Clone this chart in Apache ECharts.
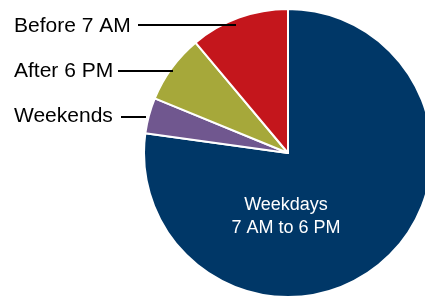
<!DOCTYPE html>
<html>
<head>
<meta charset="utf-8">
<script src="https://cdn.jsdelivr.net/npm/echarts@6/dist/echarts.min.js"></script>
<style>
  html, body { margin: 0; padding: 0; background: #fff; }
  #main { width: 425px; height: 299px; }
</style>
</head>
<body>
<div id="main"></div>
<script>
// share of trips by time (percent), clockwise from 12 o'clock
var categories = ['Weekdays', 'Weekends', 'After 6 PM', 'Before 7 AM'];
var labelTexts = ['Weekdays\n7 AM to 6 PM', 'Weekends', 'After 6 PM', 'Before 7 AM'];
var values = [77.2, 4.0, 7.7, 11.1];
var colors = ['#003767', '#70578f', '#a6a83a', '#c4161c'];

// where each label sits and where its leader line runs
var labelPos = [
  { x: 286, y: 217, line: null },
  { x: 14, y: 116, line: [[121, 117], [146, 117]] },
  { x: 14, y: 71, line: [[118, 71], [173, 71]] },
  { x: 14, y: 26, line: [[138, 25], [236, 25]] }
];

var chartDom = document.getElementById('main');
var myChart = echarts.init(chartDom);

// leader lines drawn above the slices
var leaders = [];
labelPos.forEach(function (lp) {
  if (lp.line) {
    leaders.push({
      type: 'line',
      z: 100,
      shape: { x1: lp.line[0][0], y1: lp.line[0][1], x2: lp.line[1][0], y2: lp.line[1][1] },
      style: { stroke: '#000', lineWidth: 2 }
    });
  }
});

var option = {
  animation: false,
  graphic: leaders,
  series: [
    {
      type: 'pie',
      center: [288, 153],
      radius: 144,
      startAngle: 90,
      clockwise: true,
      itemStyle: { borderColor: '#fff', borderWidth: 2 },
      label: {
        position: 'outside',
        fontFamily: 'Liberation Sans, Arial, sans-serif',
        fontSize: 21,
        color: '#000',
        overflow: 'none',
        width: 200,
        formatter: function (p) { return labelTexts[p.dataIndex]; }
      },
      labelLine: { show: false },
      labelLayout: function (p) {
        var lp = labelPos[p.dataIndex];
        if (!lp.line) {
          return { x: lp.x, y: lp.y, align: 'center', verticalAlign: 'middle' };
        }
        return { x: lp.x, y: lp.y, align: 'left', verticalAlign: 'middle' };
      },
      data: categories.map(function (c, i) {
        var item = { name: c, value: values[i], itemStyle: { color: colors[i] } };
        if (i === 0) {
          item.label = { position: 'inside', color: '#fff', fontSize: 18, lineHeight: 23 };
        }
        return item;
      })
    }
  ]
};

myChart.setOption(option);
</script>
</body>
</html>
